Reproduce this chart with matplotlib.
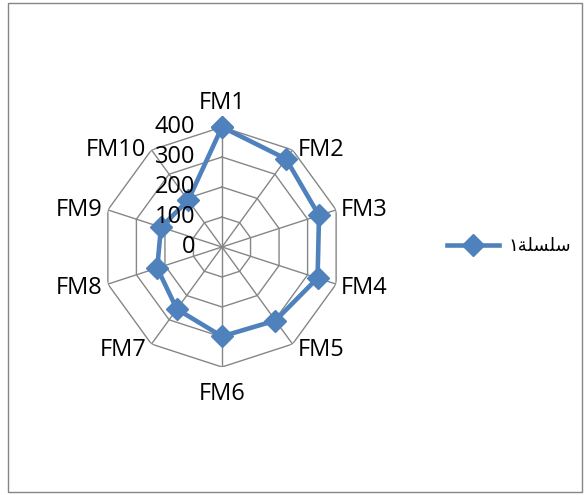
import numpy as np
import matplotlib
matplotlib.use("Agg")
import matplotlib.pyplot as plt
import matplotlib.transforms as mtransforms
from matplotlib.patches import Rectangle

categories = ["FM1", "FM2", "FM3", "FM4", "FM5", "FM6", "FM7", "FM8", "FM9", "FM10"]
values = [400, 363, 340, 335, 303, 298, 256, 227, 214, 192]
ticks = [0, 100, 200, 300, 400]
# Arabic "سلسلة١" in presentation forms, visual left-to-right order
series_name = "\u0661\ufe94\ufee0\ufeb4\ufee0\ufeb3"

line_color = "#4F81BD"
grid_color = "#868686"
label_font = "Open Sans"

fig = plt.figure(figsize=(5.85, 4.95), dpi=100)
fig.patches.append(Rectangle((8 / 585, 3 / 495), 574 / 585, 489 / 495,
                             transform=fig.transFigure, fill=False,
                             edgecolor="#868686", linewidth=1))

cx, cy, R = 222, 247, 120
ax = fig.add_axes([(cx - R) / 585, (495 - cy - R) / 495, 2 * R / 585, 2 * R / 495],
                  projection="polar")
ax.set_theta_zero_location("N")
ax.set_theta_direction(-1)
ax.set_ylim(0, 400)
ax.grid(False)
ax.spines["polar"].set_visible(False)
ax.set_xticks([])
ax.set_yticks([])
ax.patch.set_alpha(0)

n = len(categories)
angles = np.linspace(0, 2 * np.pi, n, endpoint=False)
ang_closed = np.append(angles, angles[0])

# polygon grid
for t in ticks[1:]:
    ax.plot(ang_closed, [t] * (n + 1), color=grid_color, lw=1, zorder=1)
for a in angles:
    ax.plot([a, a], [0, 400], color=grid_color, lw=1, zorder=1)

# data
vals_closed = values + [values[0]]
line, = ax.plot(ang_closed, vals_closed, color=line_color, lw=3.3, marker="D",
                markersize=11, zorder=3, label=series_name, clip_on=False)

# category labels, placed next to the outer vertex like Excel does
for a, c in zip(angles, categories):
    s, co = np.sin(a), np.cos(a)
    if abs(s) < 0.1:
        ha, dx = "center", 0
        dy = -24 if co > 0 else 27
    else:
        ha = "left" if s > 0 else "right"
        dx = 5 if s > 0 else -5
        if co > 0:
            dy = 0
        elif co > -0.5:
            dy = 4
        else:
            dy = 6
    tr = mtransforms.offset_copy(ax.transData, fig=fig, x=dx, y=-dy, units="dots")
    ax.text(a, 400, c, transform=tr, ha=ha, va="center", fontsize=17,
            family=label_font, clip_on=False)

# radial tick labels
off = mtransforms.offset_copy(ax.transData, fig=fig, x=-27, y=0, units="dots")
for t in ticks:
    ax.text(0, t, str(t), transform=off, ha="right", va="center",
            fontsize=17, family=label_font)

fig.legend(handles=[line], loc="center left",
           bbox_to_anchor=(447 / 585, 1 - 246 / 495), frameon=False,
           borderpad=0, borderaxespad=0,
           prop={"family": "DejaVu Sans", "size": 13}, handlelength=2.9,
           handletextpad=0.5)

fig.savefig("out.png", dpi=100)
